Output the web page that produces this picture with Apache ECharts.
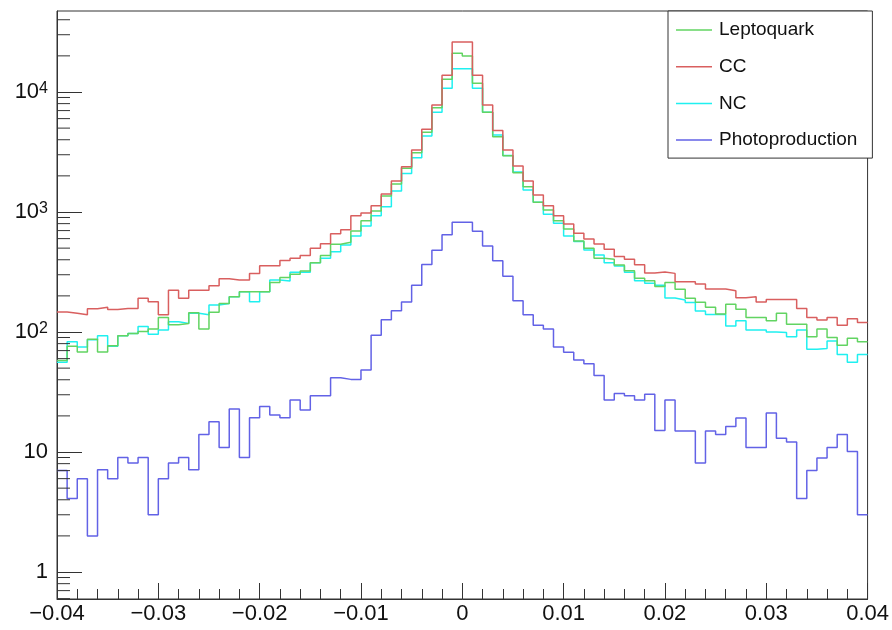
<!DOCTYPE html>
<html><head><meta charset="utf-8">
<script src="https://cdn.jsdelivr.net/npm/echarts@6/dist/echarts.min.js"></script>
<style>html,body{margin:0;padding:0;background:#fff}#c{width:892px;height:630px}</style>
</head><body><div id="c"></div>
<script>
// ---- data ----
const xMin = -0.04, xMax = 0.04, binWidth = 0.001;
const yMin = 0.596, yMax = 47300;
const seriesNames = ['Leptoquark', 'CC', 'NC', 'Photoproduction'];
const leptoquark = [58,76,68,87,68,77,93,97,101,106,132,115,118,145,106,146,173,197,217,217,
  217,258,284,303,322,378,433,538,559,695,845,1019,1359,1711,2313,3121,4612,7397,12760,20980,
  19950,11810,6770,4246,2944,2127,1626,1205,1039,847,721,573,498,411,404,362,324,280,268,240,
  258,227,191,177,161,141,170,155,132,132,124,143,116,116,91.5,106,90,77.5,88.6,83];
const cc = [147,143,139,156,161,154,157,157,191,179,139,223,191,223,223,243,278,271,271,308,
  356,356,395,411,433,498,545,660,713,931,980,1129,1413,1813,2386,3286,4890,7790,13780,26100,
  26100,13780,7790,4767,3286,2416,1813,1387,1129,931,794,664,596,541,489,425,404,364,310,316,
  308,262,262,251,228,228,221,193,197,178,187,187,187,157,132,126,132,114,129,120];
const nc = [56,83,75,86,93,76,93,97,111,96,104,122,118,143,139,168,173,197,217,179,
  217,271,266,314,315,378,411,467,531,631,764,931,1107,1496,2098,2836,4297,6770,10730,15640,
  15640,10730,6770,4383,2960,2150,1525,1205,957,805,631,569,482,438,378,355,314,268,255,245,
  192,185,176,150,140,140,112,124,104,104,100,99,91.5,104,72,73,84,65,56,65];
const photoproduction = [7,4.1,6,2,7.1,6,9,8.1,9,3,6,8.1,9,7.1,14,17.9,10.9,22.8,9,19.3,
  24,20.3,19.3,27.1,22.4,29.4,29.4,41.6,40.3,40.3,48.3,93.8,126.7,150.6,178,245,366,480,647,820,
  820,690,521,393,291,182,139,114,106,75,67.7,58.5,54.5,43.5,27.1,30.8,29.4,27.1,30.3,15.1,
  27.1,15,15,8.1,15,14,16.3,19.2,10.9,10.9,21.1,13,12.1,4.1,7,8.9,10.9,14,10.1,3];
const xTickLabels = ['\u22120.04','\u22120.03','\u22120.02','\u22120.01','0','0.01','0.02','0.03','0.04'];
const yTickLabels = {0:'1', 1:'10', 2:'10{s|2}', 3:'10{s|3}', 4:'10{s|4}'};
const colors = ['#62d462', '#d95f5f', '#1ff0f0', '#6262e6'];

// ---- build ----
function stepData(vals) {
  const d = vals.map((v, i) => [xMin + i * binWidth, v]);
  d.push([xMax, vals[vals.length - 1]]);
  return d;
}
const yMinorTicks = [];
for (let d = -1; d <= 4; d++) for (let k = 2; k <= 9; k++) {
  const v = k * Math.pow(10, d);
  if (v > yMin && v < yMax) yMinorTicks.push([xMin, v]);
}
const FONT = '"Liberation Sans", Arial, Helvetica, sans-serif';
const allVals = [leptoquark, cc, nc, photoproduction];
const drawOrder = [2, 0, 1, 3];
const series = drawOrder.map(i => ({
  name: seriesNames[i], type: 'line', step: 'end', data: stepData(allVals[i]),
  symbol: 'none', lineStyle: {color: colors[i], width: 1.5}, itemStyle: {color: colors[i]},
  animation: false, z: 3
}));
series.push({
  type: 'custom', data: yMinorTicks, encode: {x: 0, y: 1}, silent: true, animation: false, z: 4,
  renderItem: (params, api) => {
    const p = api.coord([api.value(0), api.value(1)]);
    return {type: 'line', shape: {x1: p[0], y1: p[1], x2: p[0] + 13, y2: p[1]},
      style: {stroke: '#333', lineWidth: 1}};
  }
});

const chart = echarts.init(document.getElementById('c'), null, {renderer: 'canvas'});
chart.setOption({
  animation: false,
  backgroundColor: '#fff',
  grid: {left: 57, right: 20, top: 11, bottom: 31, show: true, borderColor: '#333', borderWidth: 1, backgroundColor: 'transparent'},
  xAxis: {
    type: 'value', min: xMin, max: xMax, interval: 0.01,
    axisLine: {show: true, onZero: false, lineStyle: {color: '#333', width: 1}},
    axisTick: {show: true, inside: true, length: 16, lineStyle: {color: '#333'}},
    minorTick: {show: true, splitNumber: 5, length: 10, lineStyle: {color: '#333'}},
    splitLine: {show: false},
    axisLabel: {fontFamily: FONT, fontSize: 22, color: '#111', margin: 4,
      formatter: v => xTickLabels[Math.round((v - xMin) / 0.01)]}
  },
  yAxis: {
    type: 'log', logBase: 10, min: yMin, max: yMax,
    axisLine: {show: true, onZero: false, lineStyle: {color: '#333', width: 1}},
    axisTick: {show: true, inside: true, length: 25, lineStyle: {color: '#333'}},
    splitLine: {show: false},
    axisLabel: {fontFamily: FONT, fontSize: 22, color: '#111', margin: 9, showMinLabel: false, showMaxLabel: false,
      formatter: v => {
        const e = Math.round(Math.log10(v));
        if (Math.abs(Math.log10(v) - e) > 1e-6) return '';
        return yTickLabels[e] || '';
      },
      rich: {s: {fontFamily: FONT, fontSize: 16, verticalAlign: 'top', lineHeight: 16, padding: [0, 0, 12, 0]}}
    }
  },
  legend: {
    data: seriesNames.map(n => ({name: n, icon: 'rect'})), orient: 'vertical', left: 668, top: 11,
    itemWidth: 36, itemHeight: 1.5, itemGap: 16.7,
    padding: [9, 15, 8, 8],
    borderColor: '#333', borderWidth: 1, backgroundColor: '#fff',
    textStyle: {fontFamily: FONT, fontSize: 19, color: '#111', lineHeight: 20, padding: [0, 0, 0, 2]}
  },
  series: series
});
</script></body></html>
